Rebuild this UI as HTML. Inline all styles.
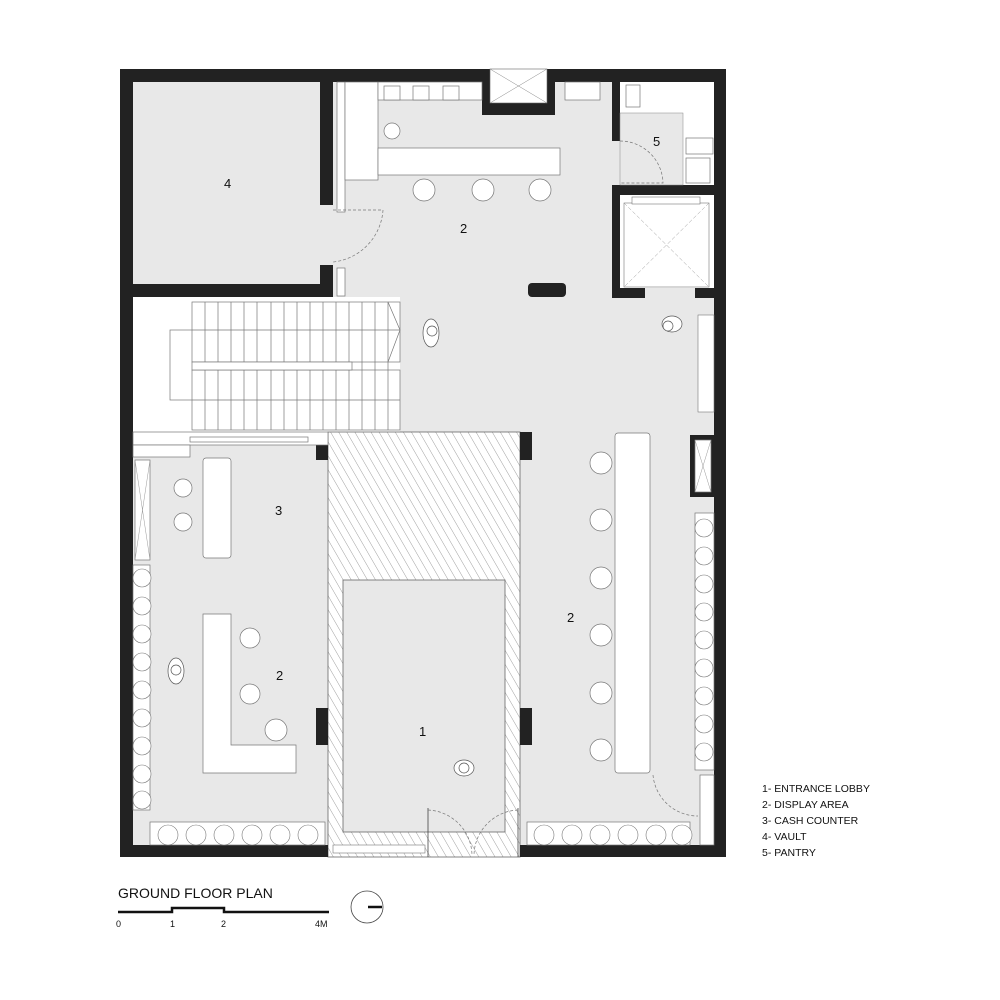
<!DOCTYPE html>
<html><head><meta charset="utf-8"><style>
html,body{margin:0;padding:0;background:#fff;width:1000px;height:1000px;overflow:hidden}
svg{display:block}
text{font-family:"Liberation Sans",sans-serif;fill:#111}
</style></head><body>
<svg width="1000" height="1000" viewBox="0 0 1000 1000" xmlns="http://www.w3.org/2000/svg">
<defs>
<pattern id="h" width="7" height="7" patternUnits="userSpaceOnUse" patternTransform="rotate(-30)">
<rect width="7" height="7" fill="#fff"/><line x1="0" y1="0" x2="0" y2="7" stroke="#777" stroke-width="0.7"/>
</pattern>
</defs>
<!-- floor -->
<rect x="120" y="69" width="606" height="788" fill="#e8e8e8"/>
<!-- stairs white area -->
<rect x="133" y="297" width="267" height="135" fill="#fff"/>
<!-- lobby hatch -->
<rect x="328" y="432" width="192" height="425" fill="url(#h)" stroke="#666" stroke-width="0.8"/>
<rect x="343" y="580" width="162" height="252" fill="#e8e8e8" stroke="#666" stroke-width="0.8"/>
<!-- outer walls -->
<g fill="#222">
<rect x="120" y="69" width="606" height="13"/>
<rect x="120" y="69" width="13" height="788"/>
<rect x="714" y="69" width="12" height="788"/>
<rect x="120" y="845" width="208" height="12"/>
<rect x="520" y="845" width="206" height="12"/>
<!-- vault walls -->
<rect x="320" y="82" width="13" height="123"/>
<rect x="320" y="265" width="13" height="32"/>
<rect x="120" y="284" width="213" height="13"/>
<!-- top notch -->
<rect x="482" y="69" width="73" height="46"/>
<!-- pantry -->
<rect x="612" y="69" width="8" height="72"/>
<rect x="612" y="185" width="114" height="10"/>
<rect x="612" y="185" width="8" height="113"/>
<rect x="612" y="288" width="33" height="10"/>
<rect x="695" y="288" width="31" height="10"/>
<!-- columns -->
<rect x="316" y="432" width="12" height="28"/>
<rect x="316" y="708" width="12" height="37"/>
<rect x="520" y="432" width="12" height="28"/>
<rect x="520" y="708" width="12" height="37"/>
<rect x="528" y="283" width="38" height="14" rx="4"/>
<rect x="690" y="435" width="24" height="62"/>
</g>
<!-- vault interior -->
<rect x="133" y="82" width="187" height="202" fill="#e8e8e8"/>
<!-- notch inner -->
<rect x="490" y="69" width="57" height="34" fill="#fff" stroke="#666" stroke-width="0.6"/>
<path d="M490 69L547 103M547 69L490 103" stroke="#888" stroke-width="0.5"/>
<!-- top counter area -->
<g fill="#fff" stroke="#777" stroke-width="0.7">
<rect x="337" y="82" width="8" height="130"/>
<rect x="345" y="82" width="33" height="98"/>
<rect x="378" y="82" width="104" height="18"/>
<rect x="384" y="86" width="16" height="14"/><rect x="413" y="86" width="16" height="14"/><rect x="443" y="86" width="16" height="14"/>
<rect x="378" y="148" width="182" height="27"/>
<circle cx="392" cy="131" r="8"/>
<rect x="565" y="82" width="35" height="18"/>
<circle cx="424" cy="190" r="11"/><circle cx="483" cy="190" r="11"/><circle cx="540" cy="190" r="11"/>
<rect x="337" y="268" width="8" height="28"/>
</g>
<path d="M333 210h50 M383 210 A56 56 0 0 1 333 262" fill="none" stroke="#777" stroke-width="0.7" stroke-dasharray="3 2"/>
<!-- pantry interior -->
<rect x="620" y="82" width="94" height="103" fill="#fff"/>
<rect x="620" y="113" width="63" height="72" fill="#e8e8e8" stroke="#888" stroke-width="0.5"/>
<g fill="#fff" stroke="#777" stroke-width="0.7">
<rect x="626" y="85" width="14" height="22"/>
<rect x="686" y="138" width="27" height="16"/>
<rect x="686" y="158" width="24" height="25"/>
</g>
<path d="M620 141 A43 43 0 0 1 663 183 L620 183" fill="none" stroke="#777" stroke-width="0.7" stroke-dasharray="3 2"/>
<!-- elevator -->
<rect x="620" y="195" width="94" height="93" fill="#fff"/>
<rect x="624" y="203" width="85" height="84" fill="#fff" stroke="#777" stroke-width="0.6"/>
<rect x="632" y="197" width="68" height="7" fill="#fff" stroke="#777" stroke-width="0.6"/>
<path d="M624 203L709 287M709 203L624 287" stroke="#999" stroke-width="0.5" stroke-dasharray="4 2"/>
<rect x="698" y="315" width="16" height="97" fill="#fff" stroke="#777" stroke-width="0.6"/>
<!-- stairs -->
<g stroke="#777" stroke-width="0.7" fill="none">
<rect x="170" y="330" width="35" height="70" fill="#fff"/>
<rect x="192" y="302" width="208" height="60" fill="#fff"/>
<rect x="192" y="370" width="208" height="60" fill="#fff"/>
<path d="M205 302v128M218 302v128M231 302v128M244 302v128M257 302v128M271 302v128M284 302v128M297 302v128M310 302v128M323 302v128M336 302v128M349 302v128M362 302v128M375 302v128M388 302v128"/>
<path d="M192 330h208M192 400h208"/>
<path d="M388 302L400 330L388 362"/>
<rect x="192" y="362" width="160" height="8" fill="#fff"/>
<rect x="133" y="432" width="195" height="13" fill="#fff"/>
<rect x="190" y="437" width="118" height="5" fill="#fff"/>
</g>
<!-- left lower -->
<g fill="#fff" stroke="#777" stroke-width="0.7">
<rect x="133" y="445" width="57" height="12"/>
<rect x="135" y="460" width="15" height="100"/>
<rect x="203" y="458" width="28" height="100" rx="3"/>
<path d="M203 614h28v131h65v28h-93z"/>
<circle cx="183" cy="488" r="9"/><circle cx="183" cy="522" r="9"/>
<circle cx="250" cy="638" r="10"/><circle cx="250" cy="694" r="10"/><circle cx="276" cy="730" r="11"/>
<rect x="133" y="565" width="17" height="245"/>
<rect x="150" y="822" width="175" height="23"/>
</g>
<path d="M135 460L150 560M150 460L135 560" stroke="#999" stroke-width="0.5"/>
<g fill="#fff" stroke="#777" stroke-width="0.6">
<circle cx="142" cy="578" r="9"/><circle cx="142" cy="606" r="9"/><circle cx="142" cy="634" r="9"/><circle cx="142" cy="662" r="9"/><circle cx="142" cy="690" r="9"/><circle cx="142" cy="718" r="9"/><circle cx="142" cy="746" r="9"/><circle cx="142" cy="774" r="9"/><circle cx="142" cy="800" r="9"/>
<circle cx="168" cy="835" r="10"/><circle cx="196" cy="835" r="10"/><circle cx="224" cy="835" r="10"/><circle cx="252" cy="835" r="10"/><circle cx="280" cy="835" r="10"/><circle cx="308" cy="835" r="10"/>
</g>
<!-- right lower -->
<g fill="#fff" stroke="#777" stroke-width="0.7">
<rect x="615" y="433" width="35" height="340" rx="3"/>
<circle cx="601" cy="463" r="11"/><circle cx="601" cy="520" r="11"/><circle cx="601" cy="578" r="11"/><circle cx="601" cy="635" r="11"/><circle cx="601" cy="693" r="11"/><circle cx="601" cy="750" r="11"/>
<rect x="695" y="513" width="19" height="257"/>
<rect x="695" y="440" width="16" height="52"/>
<rect x="527" y="822" width="163" height="23"/>
<rect x="700" y="775" width="14" height="70"/>
</g>
<path d="M695 440L711 492M711 440L695 492" stroke="#999" stroke-width="0.5"/>
<g fill="#fff" stroke="#777" stroke-width="0.6">
<circle cx="704" cy="528" r="9"/><circle cx="704" cy="556" r="9"/><circle cx="704" cy="584" r="9"/><circle cx="704" cy="612" r="9"/><circle cx="704" cy="640" r="9"/><circle cx="704" cy="668" r="9"/><circle cx="704" cy="696" r="9"/><circle cx="704" cy="724" r="9"/><circle cx="704" cy="752" r="9"/>
<circle cx="544" cy="835" r="10"/><circle cx="572" cy="835" r="10"/><circle cx="600" cy="835" r="10"/><circle cx="628" cy="835" r="10"/><circle cx="656" cy="835" r="10"/><circle cx="682" cy="835" r="10"/>
</g>
<path d="M653 775 A45 45 0 0 0 698 816" fill="none" stroke="#777" stroke-width="0.7" stroke-dasharray="3 2"/>
<!-- entrance doors -->
<path d="M428 808v49M518 808v49" stroke="#444" stroke-width="0.8"/>
<path d="M428 810 A46 46 0 0 1 472 855 M518 810 A46 46 0 0 0 474 855" fill="none" stroke="#777" stroke-width="0.7" stroke-dasharray="3 2"/>
<rect x="333" y="845" width="92" height="8" fill="#fff" stroke="#777" stroke-width="0.6"/>
<!-- people -->
<g fill="#fff" stroke="#555" stroke-width="0.7">
<ellipse cx="431" cy="333" rx="8" ry="14"/><circle cx="432" cy="331" r="5"/>
<ellipse cx="672" cy="324" rx="10" ry="8"/><circle cx="668" cy="326" r="5"/>
<ellipse cx="176" cy="671" rx="8" ry="13"/><circle cx="176" cy="670" r="5"/>
<ellipse cx="464" cy="768" rx="10" ry="8"/><circle cx="464" cy="768" r="5"/>
</g>
<!-- room numbers -->
<g font-size="13">
<text x="224" y="188">4</text><text x="460" y="233">2</text><text x="653" y="146">5</text>
<text x="275" y="515">3</text><text x="276" y="680">2</text><text x="567" y="622">2</text><text x="419" y="736">1</text>
</g>
<!-- legend -->
<g font-size="10.5">
<text x="762" y="792">1- ENTRANCE LOBBY</text>
<text x="762" y="808">2- DISPLAY AREA</text>
<text x="762" y="824">3- CASH COUNTER</text>
<text x="762" y="840">4- VAULT</text>
<text x="762" y="856">5- PANTRY</text>
</g>
<text x="118" y="898" font-size="14">GROUND FLOOR PLAN</text>
<path d="M118 912h54v-4h52v4h105" fill="none" stroke="#111" stroke-width="2.5"/>
<g font-size="9"><text x="116" y="927">0</text><text x="170" y="927">1</text><text x="221" y="927">2</text><text x="315" y="927">4M</text></g>
<circle cx="367" cy="907" r="16" fill="none" stroke="#444" stroke-width="0.8"/>
<path d="M368 907h14" stroke="#111" stroke-width="2.5"/>
</svg>
</body></html>
